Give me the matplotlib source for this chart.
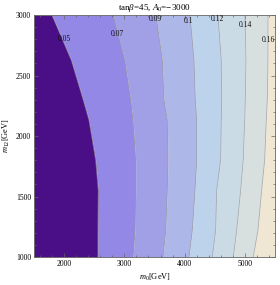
import numpy as np
import matplotlib
matplotlib.use("Agg")
import matplotlib.pyplot as plt
from matplotlib.ticker import MultipleLocator

plt.rcParams['font.family'] = ['Liberation Serif', 'DejaVu Serif']
plt.rcParams['mathtext.fontset'] = 'custom'
plt.rcParams['mathtext.rm'] = 'Liberation Serif'
plt.rcParams['mathtext.it'] = 'Liberation Serif:italic'

# contour levels and their m0 positions (GeV) at the m12 sample heights
m12 = [1000, 1223, 1554, 1802, 2132, 2298, 2628, 3000]
levels = ["0.05", "0.07", "0.09", "0.1", "0.12", "0.14", "0.16"]
c005 = [2562, 2562, 2567, 2524, 2413, 2318, 2119, 1799]
c007 = [3143, 3177, 3188, 3188, 3143, 3105, 3006, 2816]
c009 = [3641, 3686, 3713, 3724, 3713, 3658, 3630, 3525]
c010 = [4073, 4128, 4173, 4201, 4201, 4178, 4156, 4090]
c012 = [4460, 4516, 4533, 4599, 4609, 4616, 4609, 4554]
c014 = [4808, 4865, 4931, 4974, 4998, 5008, 5019, 5003]
c016 = [5140, 5218, 5280, 5329, 5356, 5373, 5384, 5384]
curves = [c005, c007, c009, c010, c012, c014, c016]

# label positions (m0, m12)
label_m0 = [1998, 2878, 3509, 4073, 4538, 5003, 5384]
label_m12 = [2802, 2843, 2965, 2950, 2965, 2920, 2793]

colors = ["#4a0f86", "#9488e6", "#a1a0e6", "#adb7e8", "#bdd2eb",
          "#cbdbe5", "#d8e0df", "#efe7d3"]

xmin, xmax = 1500, 5500
ymin, ymax = 1000, 3000

fig = plt.figure(figsize=(2.8, 2.85), dpi=100)
ax = fig.add_axes([0.1214, 0.0982, 0.8606, 0.8491])

bounds = [[xmin] * len(m12)] + curves + [[xmax] * len(m12)]
for i in range(len(bounds) - 1):
    ax.fill_betweenx(m12, bounds[i], bounds[i + 1], color=colors[i],
                     linewidth=0, zorder=1)
for c in curves:
    ax.plot(c, m12, color="#999999", lw=0.6, alpha=0.7, zorder=2)

for lab, x, y in zip(levels, label_m0, label_m12):
    ax.text(x, y, lab, fontsize=5.5, ha="center", va="center", zorder=3,
            color="#111111")

ax.set_xlim(xmin, xmax)
ax.set_ylim(ymin, ymax)
ax.xaxis.set_major_locator(MultipleLocator(1000))
ax.xaxis.set_minor_locator(MultipleLocator(200))
ax.yaxis.set_major_locator(MultipleLocator(500))
ax.yaxis.set_minor_locator(MultipleLocator(100))
ax.tick_params(which="both", direction="in", top=True, right=True,
               labelsize=5.5, color="#666666", width=0.5, pad=2)
ax.tick_params(which="major", length=3)
ax.tick_params(which="minor", length=1.5)
for s in ax.spines.values():
    s.set_color("#666666")
    s.set_linewidth(0.6)

ax.set_title(r"tan$\beta$=45, $A_0$=−3000", fontsize=6.5, pad=3.5)
ax.set_xlabel(r"$m_0$[GeV]", fontsize=6, labelpad=3)
ax.set_ylabel(r"$m_{12}$[GeV]", fontsize=6, labelpad=3)

fig.savefig("out.png", dpi=100)
